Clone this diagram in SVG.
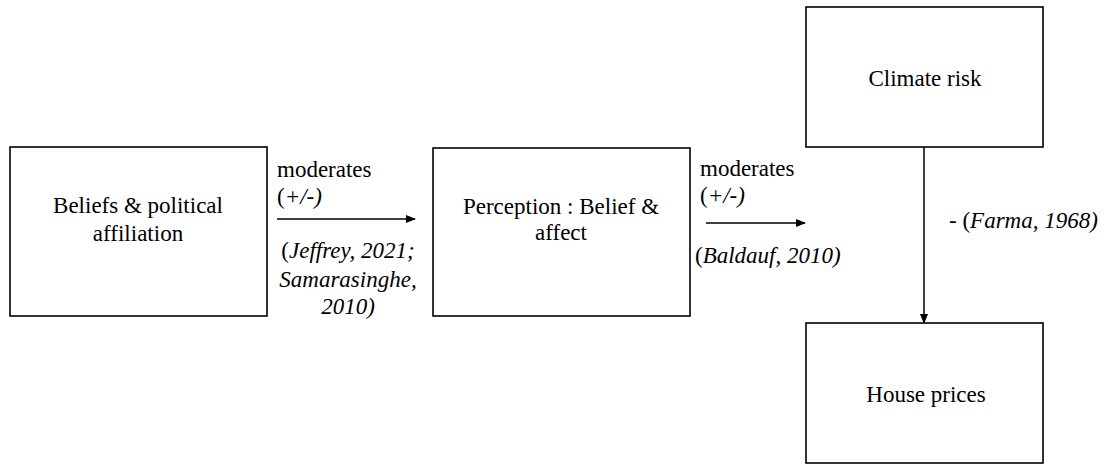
<svg xmlns="http://www.w3.org/2000/svg" width="1104" height="464" viewBox="0 0 1104 464">
<style>
.box{fill:#fff;stroke:#000;stroke-width:1.6}
.t{font-size:23px;fill:#000}
.c{text-anchor:middle}
.i{font-style:italic}
.ln{stroke:#000;stroke-width:1.5;fill:none}
</style>
<defs>
<marker id="ah" markerWidth="10" markerHeight="8" refX="9" refY="4" orient="auto" markerUnits="userSpaceOnUse">
<path d="M0,0 L10,4 L0,8 z" fill="#000"/>
</marker>
</defs>
<rect width="1104" height="464" fill="#fff"/>
<g font-family="'Liberation Serif', 'Times New Roman', serif">
<g id="beliefs">
<rect class="box" x="10" y="147" width="257" height="169"/>
<text class="t c" x="138" y="213">Beliefs &amp; political</text>
<text class="t c" x="138" y="241">affiliation</text>
</g>
<g id="perception">
<rect class="box" x="433" y="148" width="257" height="168"/>
<text class="t c" x="561" y="214">Perception : Belief &amp;</text>
<text class="t c" x="561" y="240">affect</text>
</g>
<g id="climate">
<rect class="box" x="806" y="7" width="237" height="140"/>
<text class="t c" x="925" y="86">Climate risk</text>
</g>
<g id="house">
<rect class="box" x="806" y="323" width="237" height="140"/>
<text class="t c" x="926" y="402">House prices</text>
</g>
<g id="connectors">
<line class="ln" x1="277" y1="219" x2="415" y2="219" marker-end="url(#ah)"/>
<line class="ln" x1="706" y1="223" x2="805" y2="223" marker-end="url(#ah)"/>
<line class="ln" x1="924" y1="147" x2="924" y2="323" marker-end="url(#ah)"/>
</g>
<g id="labels">
<text class="t" x="277" y="177">moderates</text>
<text class="t" x="277" y="204">(<tspan class="i">+/-)</tspan></text>
<text class="t c" x="348" y="258">(<tspan class="i">Jeffrey, 2021;</tspan></text>
<text class="t c i" x="348" y="287">Samarasinghe,</text>
<text class="t c i" x="348" y="314">2010)</text>
<text class="t" x="700" y="176">moderates</text>
<text class="t" x="700" y="203">(<tspan class="i">+/-)</tspan></text>
<text class="t" x="695" y="263">(<tspan class="i">Baldauf, 2010)</tspan></text>
<text class="t" x="949" y="228">- (<tspan class="i">Farma, 1968)</tspan></text>
</g>
</g>
</svg>
